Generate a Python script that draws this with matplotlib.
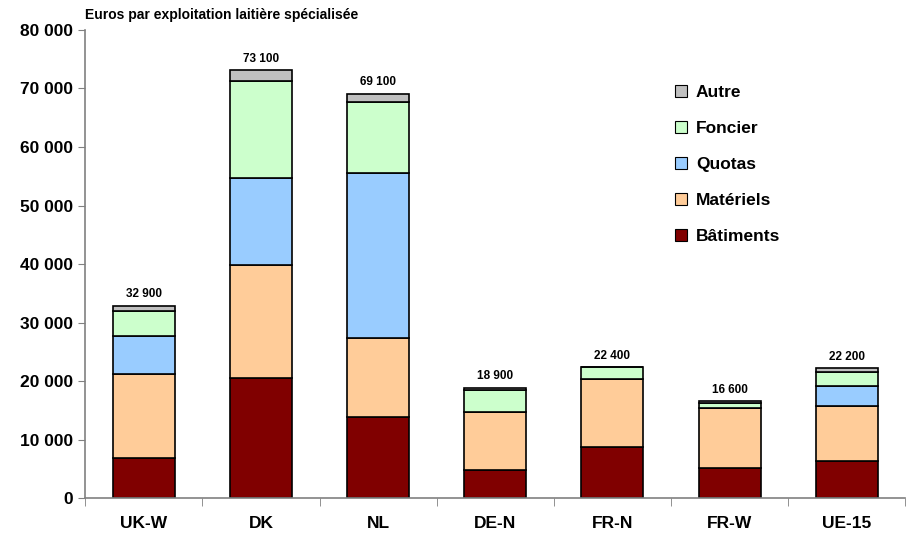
import numpy as np
import matplotlib
matplotlib.use('Agg')
import matplotlib.pyplot as plt
from matplotlib.ticker import FuncFormatter

plt.rcParams['font.family'] = ['Liberation Sans', 'DejaVu Sans']

regions = ['UK-W', 'DK', 'NL', 'DE-N', 'FR-N', 'FR-W', 'UE-15']
batiments = [6800, 20500, 13800, 4800, 8700, 5100, 6300]
materiels = [14400, 19300, 13600, 9900, 11600, 10300, 9400]
quotas = [6500, 14900, 28200, 0, 0, 0, 3400]
foncier = [4300, 16600, 12100, 3800, 2100, 800, 2400]
autre = [900, 1800, 1400, 400, 0, 400, 700]
totals = [32900, 73100, 69100, 18900, 22400, 16600, 22200]

series = [('Bâtiments', batiments, '#800000'),
          ('Matériels', materiels, '#FFCC99'),
          ('Quotas', quotas, '#99CCFF'),
          ('Foncier', foncier, '#CCFFCC'),
          ('Autre', autre, '#C0C0C0')]

fig = plt.figure(figsize=(9.08, 5.34), dpi=100)
ax = fig.add_axes([0.094, 0.067, 0.903, 0.877])

x = np.arange(len(regions))
bottom = np.zeros(len(regions))
handles = []
for name, vals, col in series:
    vals = np.array(vals)
    b = ax.bar(x, vals, 0.53, bottom=bottom, color=col, edgecolor='black',
               linewidth=1.2, label=name)
    handles.append(b)
    bottom += vals

for xi, t in zip(x, totals):
    ax.text(xi, t + 900, f'{t:,}'.replace(',', ' '), ha='center', va='bottom',
            fontsize=8.5, fontweight='bold')

ax.set_xlim(-0.5, len(regions) - 0.5)
ax.set_ylim(0, 80000)
ax.set_yticks(np.arange(0, 80001, 10000))
ax.yaxis.set_major_formatter(FuncFormatter(lambda v, p: f'{int(v):,}'.replace(',', ' ')))
ax.set_xticks(x)
ax.set_xticklabels(regions)
ax.set_xticks(np.arange(-0.5, len(regions)), minor=True)
ax.tick_params(axis='x', which='major', length=0, pad=13)
ax.tick_params(axis='x', which='minor', length=6, color='#808080')
ax.tick_params(axis='y', length=5, color='#808080', pad=4)
for lbl in ax.get_xticklabels() + ax.get_yticklabels():
    lbl.set_fontweight('bold')
    lbl.set_fontsize(12.5)

for s in ['top', 'right']:
    ax.spines[s].set_visible(False)
for s in ['left', 'bottom']:
    ax.spines[s].set_color('#808080')
    ax.spines[s].set_linewidth(1.2)

fig.text(0.094, 0.971, 'Euros par exploitation laitière spécialisée',
         fontsize=10, fontweight='bold', ha='left', va='center')

leg = ax.legend(handles[::-1], [s[0] for s in series][::-1], loc='upper left',
                bbox_to_anchor=(0.70, 0.915), frameon=False, handlelength=0.7,
                handleheight=0.7, handletextpad=0.5, labelspacing=1.2,
                prop={'weight': 'bold', 'size': 12.5})
for h in leg.legend_handles:
    h.set_linewidth(0.8)

fig.savefig('out.png', dpi=100)
